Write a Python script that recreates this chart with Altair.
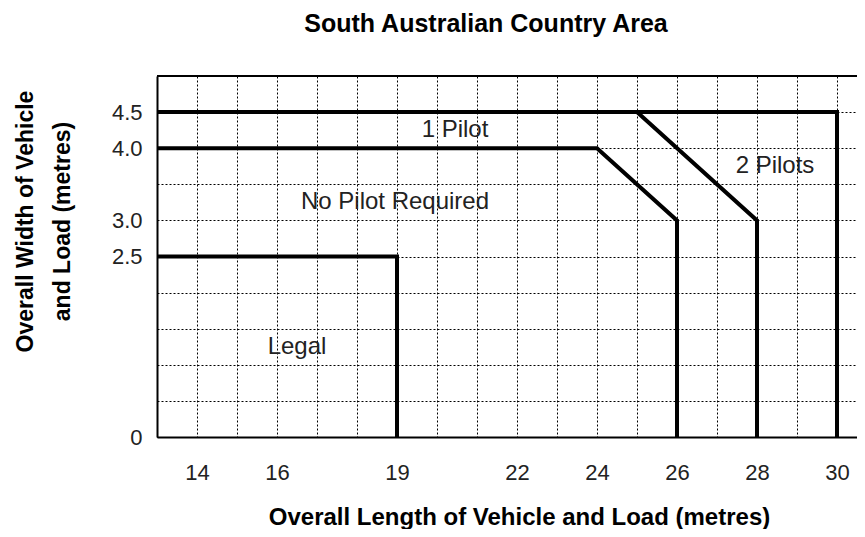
import altair as alt
import pandas as pd

chart_title = "South Australian Country Area"
x_title = "Overall Length of Vehicle and Load (metres)"
y_title = ["Overall Width of Vehicle", "and Load (metres)"]

# axis tick labels shown
x_tick_labels = [14, 16, 19, 22, 24, 26, 28, 30]
y_tick_labels = [0, 2.5, 3.0, 4.0, 4.5]
# dotted grid positions
x_grid = [13, 14, 15, 16, 17, 18, 19, 20, 21, 22, 23, 24, 25, 26, 27, 28, 29, 30]
y_grid = [0, 0.5, 1.0, 1.5, 2.0, 2.5, 3.0, 3.5, 4.0, 4.5, 5.0]

# boundary lines
legal_x = [13, 19, 19]
legal_y = [2.5, 2.5, 0]
nopilot_x = [13, 24, 26, 26]
nopilot_y = [4.0, 4.0, 3.0, 0]
onepilot_x = [25, 28, 28]
onepilot_y = [4.5, 3.0, 0]
twopilot_x = [13, 30, 30]
twopilot_y = [4.5, 4.5, 0]

# region labels
region_labels = ["1 Pilot", "No Pilot Required", "2 Pilots", "Legal"]
region_x = [20.45, 18.95, 28.45, 16.5]
region_y = [4.25, 3.26, 3.75, 1.24]

top_border = [5.0]

rows = []
for name, xs, ys in [("legal", legal_x, legal_y), ("nopilot", nopilot_x, nopilot_y),
                     ("onepilot", onepilot_x, onepilot_y), ("twopilot", twopilot_x, twopilot_y)]:
    for i, (xv, yv) in enumerate(zip(xs, ys)):
        rows.append({"name": name, "order": i, "x": xv, "y": yv})
lines_df = pd.DataFrame(rows)
labels_df = pd.DataFrame({"label": region_labels, "x": region_x, "y": region_y})
border_df = pd.DataFrame({"y": top_border})

FONT = "Liberation Sans"
xscale = alt.Scale(domain=[13, 30.5], nice=False, zero=False)
yscale = alt.Scale(domain=[0, 5], nice=False)

x_label_expr = "indexof(" + str(x_tick_labels) + ", datum.value) >= 0 ? datum.label : ''"
y_label_expr = ("indexof(" + str(y_tick_labels) + ", datum.value) >= 0 ? "
                "(datum.value == 0 ? '0' : format(datum.value, '.1f')) : ''")

x_axis = alt.Axis(values=x_grid, labelExpr=x_label_expr, grid=True, gridDash=[2, 2],
                  gridColor="#000", gridWidth=1, ticks=False, domain=True,
                  domainColor="black", domainWidth=2, labelPadding=25,
                  labelFont=FONT, labelFontSize=22, labelColor="#222",
                  labelOverlap=False, labelFlush=False,
                  title=x_title, titleFont=FONT, titleFontSize=24, titleFontWeight="bold",
                  titleColor="black", titleX=362, titleY=87, titleAlign="center",
                  titleBaseline="alphabetic", titleAnchor="start")
y_axis = alt.Axis(values=y_grid, labelExpr=y_label_expr, grid=True, gridDash=[2, 2],
                  gridColor="#000", gridWidth=1, ticks=False, domain=True,
                  domainColor="black", domainWidth=2, labelPadding=15,
                  labelFont=FONT, labelFontSize=22, labelColor="#222",
                  labelOverlap=False, labelFlush=False,
                  title=y_title, titleFont=FONT, titleFontSize=23, titleFontWeight="bold",
                  titleColor="black", titleAngle=270, titleX=-132, titleY=145,
                  titleAlign="center", titleBaseline="middle", titleLineHeight=37,
                  titleAnchor="start")

lines = alt.Chart(lines_df).mark_line(color="black", strokeWidth=4, strokeJoin="miter").encode(
    x=alt.X("x:Q", scale=xscale, axis=x_axis),
    y=alt.Y("y:Q", scale=yscale, axis=y_axis),
    detail="name:N",
    order="order:Q",
)

texts = alt.Chart(labels_df).mark_text(font=FONT, fontSize=24, color="#222").encode(
    x=alt.X("x:Q", scale=xscale, axis=x_axis),
    y=alt.Y("y:Q", scale=yscale, axis=y_axis),
    text="label:N",
)

border = alt.Chart(border_df).mark_rule(color="black", strokeWidth=2).encode(
    y=alt.Y("y:Q", scale=yscale, axis=y_axis),
)

chart = alt.layer(lines, border, texts).properties(
    width=700, height=361,
    padding={"left": 149, "top": 68, "right": 0, "bottom": 92},
    autosize=alt.AutoSizeParams(type="none"),
    title=alt.TitleParams(text=chart_title, font=FONT, fontSize=25, fontWeight="bold",
                          color="black", anchor="middle", frame="group", dx=-21,
                          offset=45, dy=37, baseline="alphabetic"),
).configure_view(stroke=None)

chart.save("out.html", embed_options={"renderer": "svg", "actions": False})
